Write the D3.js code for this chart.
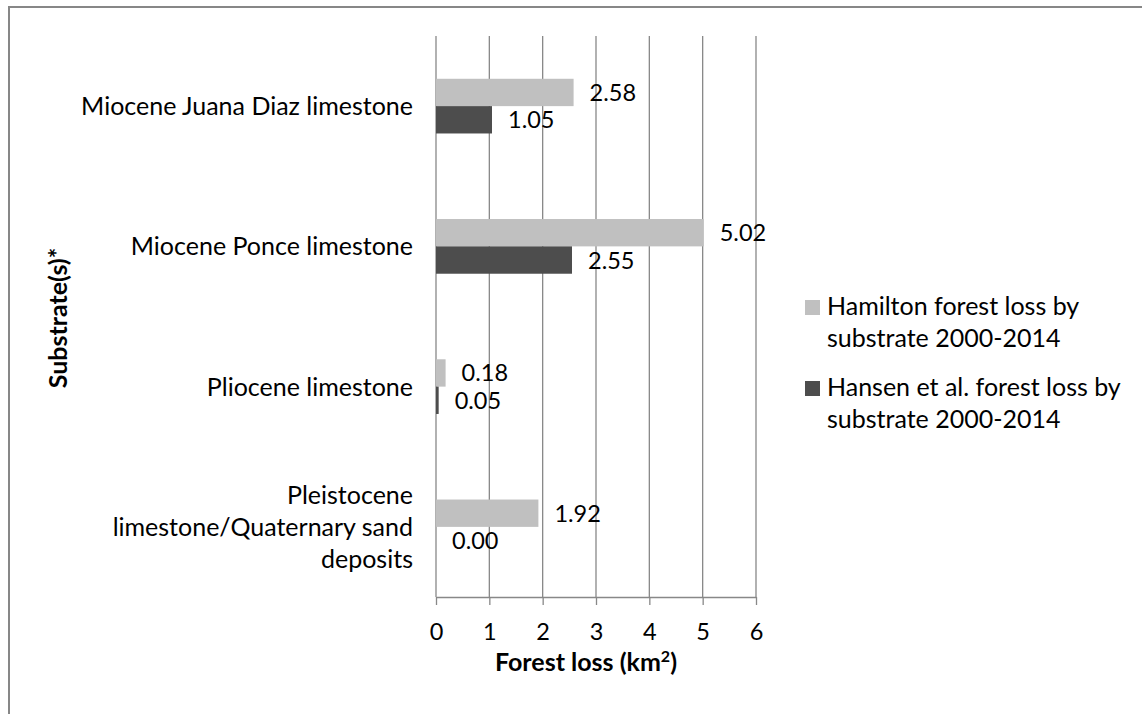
<!DOCTYPE html>
<html>
<head>
<meta charset="utf-8">
<script src="https://cdn.jsdelivr.net/npm/d3@7"></script>
<style>
  html, body { margin: 0; padding: 0; background: #fff; }
  svg { display: block; font-family: Lato, "Open Sans", sans-serif; }
</style>
</head>
<body>
<svg id="chart" width="1142" height="714"></svg>
<script>
// Substrate categories, top to bottom; multi-line labels split on "|"
const categories = [
  "Miocene Juana Diaz limestone",
  "Miocene Ponce limestone",
  "Pliocene limestone",
  "Pleistocene|limestone/Quaternary sand|deposits"
];
const seriesNames = [
  "Hamilton forest loss by|substrate 2000-2014",
  "Hansen et al. forest loss by|substrate 2000-2014"
];
const hamiltonLoss = [2.58, 5.02, 0.18, 1.92];
const hansenLoss = [1.05, 2.55, 0.05, 0.00];
const xTicks = [0, 1, 2, 3, 4, 5, 6];

const seriesValues = [hamiltonLoss, hansenLoss];
const colors = ["#c0c0c0", "#4d4d4d"];

const svg = d3.select("#chart");
const plot = { left: 436, right: 756, top: 36, bottom: 597 };
const labelSize = 25;
const numberSize = 23.5;

// outer frame
svg.append("rect")
  .attr("x", 9).attr("y", 7)
  .attr("width", 1160).attr("height", 740)
  .attr("fill", "none")
  .attr("stroke", "#878787")
  .attr("stroke-width", 2);

const x = d3.scaleLinear().domain([0, 6]).range([plot.left, plot.right]);
const y0 = d3.scaleBand().domain(categories)
  .range([plot.top, plot.bottom])
  .paddingInner(0.61).paddingOuter(0.305);
const y1 = d3.scaleBand().domain(d3.range(seriesValues.length))
  .range([0, y0.bandwidth()]);

// vertical gridlines
svg.append("g").selectAll("line")
  .data(xTicks)
  .join("line")
  .attr("x1", d => x(d)).attr("x2", d => x(d))
  .attr("y1", plot.top).attr("y2", plot.bottom)
  .attr("stroke", "#888").attr("stroke-width", 1.3);

// bottom axis
const xAxis = d3.axisBottom(x)
  .tickValues(xTicks)
  .tickFormat(d3.format("d"))
  .tickSize(8).tickSizeOuter(0).tickPadding(18);
const gx = svg.append("g")
  .attr("transform", `translate(0,${plot.bottom})`)
  .call(xAxis);
gx.select(".domain").attr("stroke", "#888").attr("stroke-width", 1.3);
gx.selectAll(".tick line").attr("stroke", "#888").attr("stroke-width", 1.3);
gx.selectAll(".tick text")
  .attr("font-family", "Lato, sans-serif")
  .attr("font-size", numberSize)
  .attr("fill", "#000");

// bars
const rows = [];
categories.forEach((c, i) => {
  seriesValues.forEach((vals, s) => rows.push({ cat: c, s, v: vals[i] }));
});

svg.append("g").selectAll("rect")
  .data(rows)
  .join("rect")
  .attr("x", x(0))
  .attr("y", d => y0(d.cat) + y1(d.s))
  .attr("width", d => x(d.v) - x(0))
  .attr("height", y1.bandwidth())
  .attr("fill", d => colors[d.s]);

// value labels
svg.append("g").selectAll("text")
  .data(rows)
  .join("text")
  .attr("x", d => x(d.v) + 16)
  .attr("y", d => y0(d.cat) + y1(d.s) + y1.bandwidth() / 2)
  .attr("dy", "0.36em")
  .attr("font-size", numberSize)
  .attr("fill", "#000")
  .text(d => d.v.toFixed(2));

// category labels
const lineH = 32;
const catG = svg.append("g");
categories.forEach(c => {
  const lines = c.split("|");
  const cy = y0(c) + y0.bandwidth() / 2;
  const t = catG.append("text")
    .attr("text-anchor", "end")
    .attr("font-size", labelSize)
    .attr("fill", "#000");
  lines.forEach((ln, k) => {
    t.append("tspan")
      .attr("x", 413)
      .attr("y", cy + (k - (lines.length - 1) / 2) * lineH)
      .attr("dy", "0.36em")
      .text(ln);
  });
});

// axis titles
svg.append("text")
  .attr("transform", "translate(67,318) rotate(-90)")
  .attr("text-anchor", "middle")
  .attr("font-size", 25)
  .attr("font-weight", "bold")
  .attr("fill", "#000")
  .text("Substrate(s)*");

const xt = svg.append("text")
  .attr("x", 586).attr("y", 671)
  .attr("text-anchor", "middle")
  .attr("font-size", 25)
  .attr("font-weight", "bold")
  .attr("fill", "#000");
xt.append("tspan").text("Forest loss (km");
xt.append("tspan").attr("font-size", 16).attr("dy", -9).text("2");
xt.append("tspan").attr("dy", 9).text(")");

// legend
const legend = svg.append("g");
const legendTop = [300, 381];
seriesNames.forEach((name, i) => {
  legend.append("rect")
    .attr("x", 805).attr("y", legendTop[i])
    .attr("width", 15).attr("height", 15)
    .attr("fill", colors[i]);
  const t = legend.append("text").attr("font-size", labelSize).attr("fill", "#000");
  name.split("|").forEach((ln, k) => {
    t.append("tspan")
      .attr("x", 827)
      .attr("y", legendTop[i] + 15 + k * 32)
      .text(ln);
  });
});
</script>
</body>
</html>
